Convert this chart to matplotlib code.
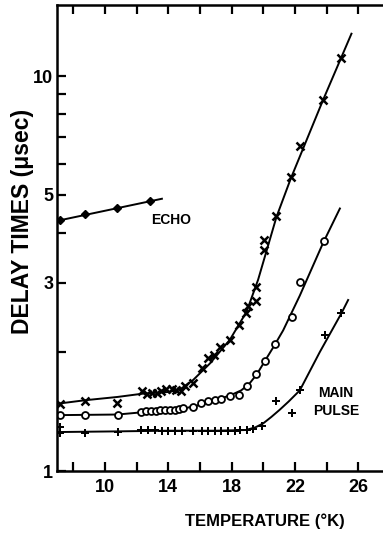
import matplotlib
matplotlib.use("Agg")
import matplotlib.pyplot as plt

plt.rcParams['font.family'] = ['Liberation Sans', 'DejaVu Sans']
plt.rcParams['font.weight'] = 'bold'

# upper branch (x markers)
x_T = [7.16, 8.74, 10.74, 12.35, 12.63, 12.95, 13.26, 13.53, 13.89, 14.21, 14.46, 14.80,
       15.05, 15.57, 16.10, 16.52, 16.88, 17.26, 17.89, 18.44, 18.92, 19.01, 19.55, 19.55,
       20.05, 20.05, 20.83, 21.73, 22.30, 23.77, 24.89]
x_delay = [1.48, 1.50, 1.49, 1.59, 1.57, 1.58, 1.58, 1.59, 1.61, 1.61, 1.60, 1.59,
           1.64, 1.67, 1.82, 1.93, 1.97, 2.06, 2.15, 2.34, 2.51, 2.61, 2.70, 2.92,
           3.63, 3.85, 4.43, 5.54, 6.66, 8.69, 11.1]
x_fit_T = [7.0, 8.7, 10.8, 12.4, 14.0, 14.75, 15.57, 16.62, 17.89, 18.94, 19.67, 20.83,
           21.73, 23.77, 25.56]
x_fit = [1.48, 1.51, 1.54, 1.57, 1.585, 1.61, 1.70, 1.87, 2.15, 2.53, 3.05, 4.40,
         5.50, 8.70, 12.8]

# middle branch (open circles)
o_T = [7.2, 8.75, 10.8, 12.3, 12.6, 12.9, 13.2, 13.5, 13.8, 14.1, 14.4, 14.7, 14.95,
       15.55, 16.05, 16.5, 16.95, 17.35, 17.9, 18.45, 19.0, 19.55, 20.1, 20.75, 21.8,
       22.3, 23.8]
o_delay = [1.39, 1.39, 1.385, 1.41, 1.415, 1.42, 1.42, 1.425, 1.43, 1.43, 1.43, 1.435, 1.44,
           1.455, 1.49, 1.50, 1.51, 1.52, 1.55, 1.56, 1.64, 1.76, 1.90, 2.10, 2.46,
           3.01, 3.82]
o_fit_T = [7.0, 10.8, 12.5, 14.0, 15.0, 16.0, 17.0, 18.0, 18.6, 19.1, 19.6, 20.1, 20.7,
           21.25, 22.3, 23.77, 24.83]
o_fit = [1.385, 1.39, 1.41, 1.425, 1.44, 1.47, 1.51, 1.56, 1.60, 1.66, 1.76, 1.90, 2.08,
         2.27, 2.78, 3.78, 4.62]

# main pulse (plus markers)
p_T = [7.2, 7.2, 8.76, 10.86, 12.3, 12.75, 13.16, 13.58, 14.0, 14.42, 14.84, 15.57, 16.10,
       16.52, 16.94, 17.36, 17.78, 18.2, 18.52, 18.94, 19.36, 19.92, 20.83, 21.78, 22.30,
       23.88, 24.93]
p_delay = [1.25, 1.29, 1.25, 1.255, 1.27, 1.27, 1.27, 1.265, 1.265, 1.265, 1.265, 1.265, 1.265,
           1.265, 1.265, 1.265, 1.265, 1.265, 1.27, 1.27, 1.28, 1.30, 1.50, 1.40, 1.60,
           2.21, 2.51]
p_fit_T = [7.0, 10.8, 14.0, 17.0, 18.9, 19.5, 19.99, 20.5, 21.04, 21.6, 22.3, 23.56, 24.93, 25.35]
p_fit = [1.255, 1.26, 1.265, 1.265, 1.27, 1.29, 1.32, 1.37, 1.43, 1.50, 1.60, 2.0, 2.51, 2.71]

# echo
e_T = [7.16, 8.74, 10.74, 12.88]
e_delay = [4.32, 4.47, 4.62, 4.83]
e_fit_T = [7.0, 13.6]
e_fit = [4.30, 4.89]

x_ticks = [8, 10, 12, 14, 16, 18, 20, 22, 24, 26]
x_ticklabels = ['', '10', '', '14', '', '18', '', '22', '', '26']
y_ticks = [1, 2, 3, 4, 5, 6, 7, 8, 9, 10]
y_ticklabels = ['1', '', '3', '', '5', '', '', '', '', '10']

fig = plt.figure(figsize=(3.83, 5.33), dpi=100)
ax = fig.add_axes([0.1496, 0.1163, 0.8504, 0.8743])

lw = 1.4
ax.plot(x_fit_T, x_fit, color='black', lw=lw)
ax.plot(o_fit_T, o_fit, color='black', lw=lw)
ax.plot(p_fit_T, p_fit, color='black', lw=lw)
ax.plot(e_fit_T, e_fit, color='black', lw=lw)

ax.plot(x_T, x_delay, ls='none', marker='x', ms=6, mew=1.8, color='black')
ax.plot(o_T, o_delay, ls='none', marker='o', ms=5, mew=1.3, mfc='white', mec='black')
ax.plot(p_T, p_delay, ls='none', marker='P', ms=5.5, mew=0, color='black')
ax.plot(e_T, e_delay, ls='none', marker='D', ms=4, color='black')

ax.set_yscale('log')
ax.set_xlim(7.0, 27.55)
ax.set_ylim(1, 15.13)
ax.set_xticks(x_ticks)
ax.set_xticklabels(x_ticklabels)
ax.set_yticks(y_ticks)
ax.set_yticklabels(y_ticklabels)
ax.yaxis.set_minor_locator(matplotlib.ticker.NullLocator())
ax.tick_params(direction='in', length=6.5, width=1.6, labelsize=13, top=True, right=False)
ax.tick_params(axis='x', pad=6)
ax.tick_params(axis='y', pad=3)
for s in ['left', 'bottom', 'top']:
    ax.spines[s].set_linewidth(1.8)
ax.spines['right'].set_visible(False)

ax.text(12.95, 4.32, 'ECHO', fontsize=10, fontweight='bold', ha='left', va='center')
ax.text(24.57, 1.496, 'MAIN\nPULSE', fontsize=10, fontweight='bold', ha='center', va='center',
        linespacing=1.35)

fig.text(23 / 383, 1 - 221 / 533, 'DELAY TIMES (μsec)', rotation=90, fontsize=16.5,
         fontweight='bold', ha='center', va='center')
fig.text(265 / 383, 1 - 521.7 / 533, 'TEMPERATURE (°K)', fontsize=12, fontweight='bold',
         ha='center', va='center')

fig.savefig('out.png', dpi=100)
